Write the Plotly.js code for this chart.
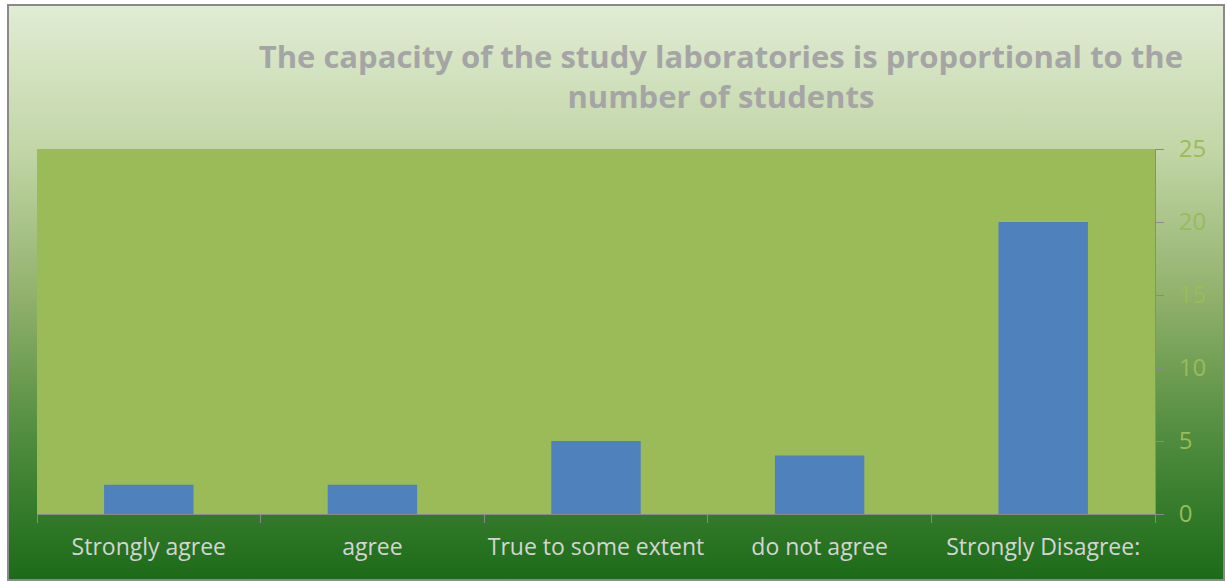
<!DOCTYPE html>
<html>
<head>
<meta charset="utf-8">
<script src="https://cdn.plot.ly/plotly-3.0.1.min.js"></script>
<style>
  body { margin: 0; background: #ffffff; }
  #bg {
    position: absolute; left: 7px; top: 4px; width: 1214px; height: 573px;
    border: 2px solid #8a8a8a;
    background: linear-gradient(to bottom, #e1ecd4 0%, #c2d6a7 25%, #93b26d 50%, #5e9447 70%, #3a7f2f 85%, #1c6b18 100%);
  }
  #chart { position: absolute; left: 0; top: 0; width: 1227px; height: 581px; }
</style>
</head>
<body>
<div id="bg"></div>
<div id="chart"></div>
<script>
const categories = ["Strongly agree", "agree", "True to some extent", "do not agree", "Strongly Disagree:"];
const counts = [2, 2, 5, 4, 20];
const yTicks = [0, 5, 10, 15, 20, 25];

const trace = {
  x: categories,
  y: counts,
  type: 'bar',
  marker: { color: '#4f81bd' },
  hoverinfo: 'x+y'
};

const layout = {
  width: 1227,
  height: 581,
  margin: { l: 37, r: 72, t: 149, b: 67 },
  paper_bgcolor: 'rgba(0,0,0,0)',
  plot_bgcolor: '#9bbb59',
  bargap: 0.6,
  showlegend: false,
  font: { family: 'Open Sans, sans-serif' },
  title: {
    text: '<b>The capacity of the study laboratories is proportional to the<br>number of students</b>',
    font: { family: 'Open Sans, sans-serif', size: 31, color: '#a5a5a5' },
    xref: 'container', x: 0.5875, xanchor: 'center',
    yref: 'container', y: 0.883, yanchor: 'top'
  },
  xaxis: {
    type: 'category',
    tickson: 'boundaries',
    tickangle: 0,
    ticks: 'outside', ticklen: 8, tickcolor: '#8a8a8a', tickwidth: 1,
    showline: true, linecolor: '#8a8a8a', linewidth: 1,
    showgrid: false,
    tickfont: { size: 23, color: '#d4d4d4' },
    ticklabelstandoff: 12
  },
  yaxis: {
    side: 'right',
    range: [0, 25],
    tickvals: yTicks,
    ticks: 'outside', ticklen: 8, tickcolor: '#8a8a8a', tickwidth: 1,
    showline: true, linecolor: '#8a8a8a', linewidth: 1,
    showgrid: false, zeroline: false,
    tickfont: { size: 24, color: '#9bbb59' },
    ticklabelstandoff: 10
  }
};

Plotly.newPlot('chart', [trace], layout, { displayModeBar: false });
</script>
</body>
</html>
